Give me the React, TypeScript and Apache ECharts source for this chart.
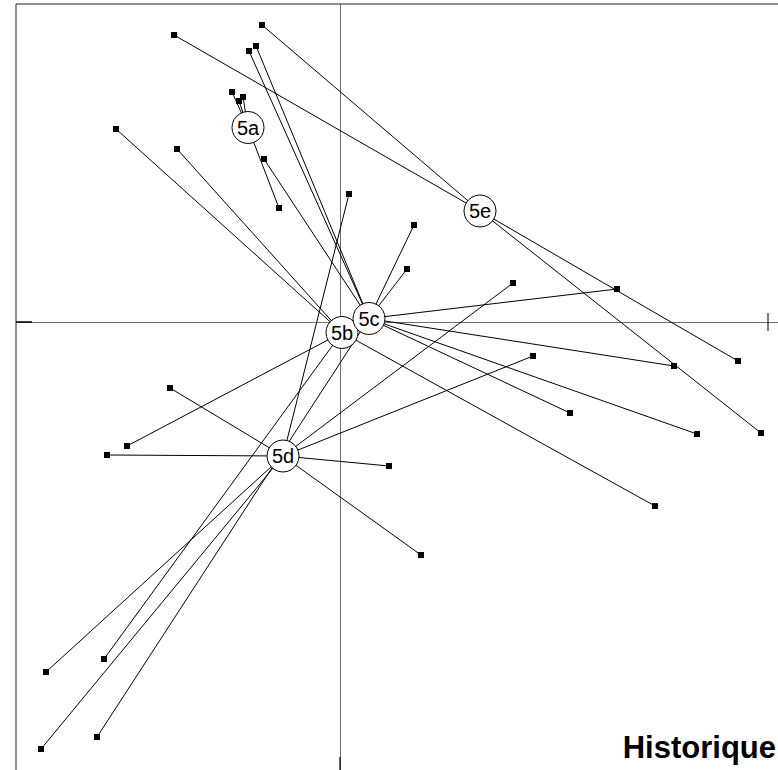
import React, { useEffect, useRef } from "react";
import * as echarts from "echarts";

// Class labels and centroid coordinates (factorial map units)
const classNames = ["5a", "5b", "5c", "5d", "5e"];
const centroidX = [-0.92, 0.02, 0.29, -0.57, 1.4];
const centroidY = [1.945, -0.105, 0.035, -1.34, 1.11];

// Individual rows: coordinates and class membership
const pointX = [
  -1.08, -0.97, -1.01, -0.61,
  -2.24, -1.63, -2.13, -2.36, 3.15,
  -0.91, -0.84, -0.76, 0.74, 0.67, 2.77, 3.34, 2.3, 3.57, -2.43,
  0.09, 1.73, 1.93, 0.49, 0.81, -1.7, -2.33, -2.94, -2.99,
  -1.66, -0.78, 3.98, 4.21,
];
const pointY = [
  2.3, 2.25, 2.21, 1.14,
  1.93, 1.73, -1.24, -3.37, -1.84,
  2.71, 2.76, 1.63, 0.97, 0.53, 0.33, -0.44, -0.91, -1.12, -4.15,
  1.28, 0.39, -0.34, -1.44, -2.33, -0.66, -1.33, -3.5, -4.27,
  2.87, 2.97, -0.39, -1.11,
];
const pointClass = [
  "5a", "5a", "5a", "5a",
  "5b", "5b", "5b", "5b", "5b",
  "5c", "5c", "5c", "5c", "5c", "5c", "5c", "5c", "5c", "5c",
  "5d", "5d", "5d", "5d", "5d", "5d", "5d", "5d", "5d",
  "5e", "5e", "5e", "5e",
];

const xMin = -3.24;
const xMax = 4.76;
const yMin = -4.82;
const yMax = 3.18;

const subtitle = "Historique";

export default function App() {
  const ref = useRef<HTMLDivElement>(null);

  useEffect(() => {
    if (!ref.current) return;
    const chart = echarts.init(ref.current, undefined, { renderer: "svg" });

    const segments = pointX.map((x, i) => {
      const k = classNames.indexOf(pointClass[i]);
      return { coords: [[x, pointY[i]], [centroidX[k], centroidY[k]]] };
    });

    const font = "'Liberation Sans', Arial, Helvetica, sans-serif";

    chart.setOption({
      animation: false,
      backgroundColor: "#ffffff",
      grid: {
        left: 16,
        top: 4,
        width: 800,
        height: 800,
        outerBoundsMode: "none",
        containLabel: false,
        show: true,
        borderColor: "#222222",
        borderWidth: 1,
        backgroundColor: "transparent",
      },
      xAxis: {
        type: "value",
        min: xMin,
        max: xMax,
        axisLine: { show: true, onZero: true, lineStyle: { color: "#6f6f6f", width: 1 } },
        axisTick: { show: false },
        axisLabel: { show: false },
        splitLine: { show: false },
      },
      yAxis: {
        type: "value",
        min: yMin,
        max: yMax,
        axisLine: { show: true, onZero: true, lineStyle: { color: "#6f6f6f", width: 1 } },
        axisTick: { show: false },
        axisLabel: { show: false },
        splitLine: { show: false },
      },
      series: [
        {
          type: "lines",
          coordinateSystem: "cartesian2d",
          polyline: false,
          silent: true,
          z: 2,
          lineStyle: { color: "#000000", width: 1, opacity: 1 },
          data: segments,
        },
        {
          type: "line",
          silent: true,
          z: 2,
          symbol: "none",
          lineStyle: { color: "#000000", width: 1.5 },
          data: [[xMin, 0], [xMin + 0.16, 0]],
        },
        {
          type: "line",
          silent: true,
          z: 2,
          symbol: "none",
          lineStyle: { color: "#000000", width: 1 },
          data: [[4.28, 0.09], [4.28, -0.09]],
        },
        {
          type: "line",
          silent: true,
          z: 2,
          symbol: "none",
          lineStyle: { color: "#000000", width: 1.2 },
          data: [[0, -4.35], [0, yMin]],
        },
        {
          type: "scatter",
          silent: true,
          z: 3,
          symbol: "rect",
          symbolSize: 6,
          itemStyle: { color: "#000000", opacity: 1 },
          data: pointX.map((x, i) => [x, pointY[i]]),
        },
        {
          type: "scatter",
          silent: true,
          z: 4,
          symbol: "circle",
          symbolSize: 32,
          itemStyle: { color: "#ffffff", borderColor: "#000000", borderWidth: 1, opacity: 1 },
          label: {
            show: true,
            position: "inside",
            formatter: (p: any) => p.data.name,
            color: "#000000",
            fontSize: 20,
            fontFamily: font,
          },
          data: classNames.map((n, k) => ({ name: n, value: [centroidX[k], centroidY[k]] })),
        },
      ],
      graphic: [
        {
          type: "text",
          z: 10,
          style: {
            text: subtitle,
            x: 776,
            y: 747,
            textAlign: "right",
            textVerticalAlign: "middle",
            fontSize: 31,
            fontWeight: "bold",
            fontFamily: font,
            fill: "#000000",
          },
        },
      ],
    });

    return () => chart.dispose();
  }, []);

  return (
    <div
      ref={ref}
      style={{ position: "fixed", left: 0, top: 0, width: 778, height: 770 }}
    />
  );
}
